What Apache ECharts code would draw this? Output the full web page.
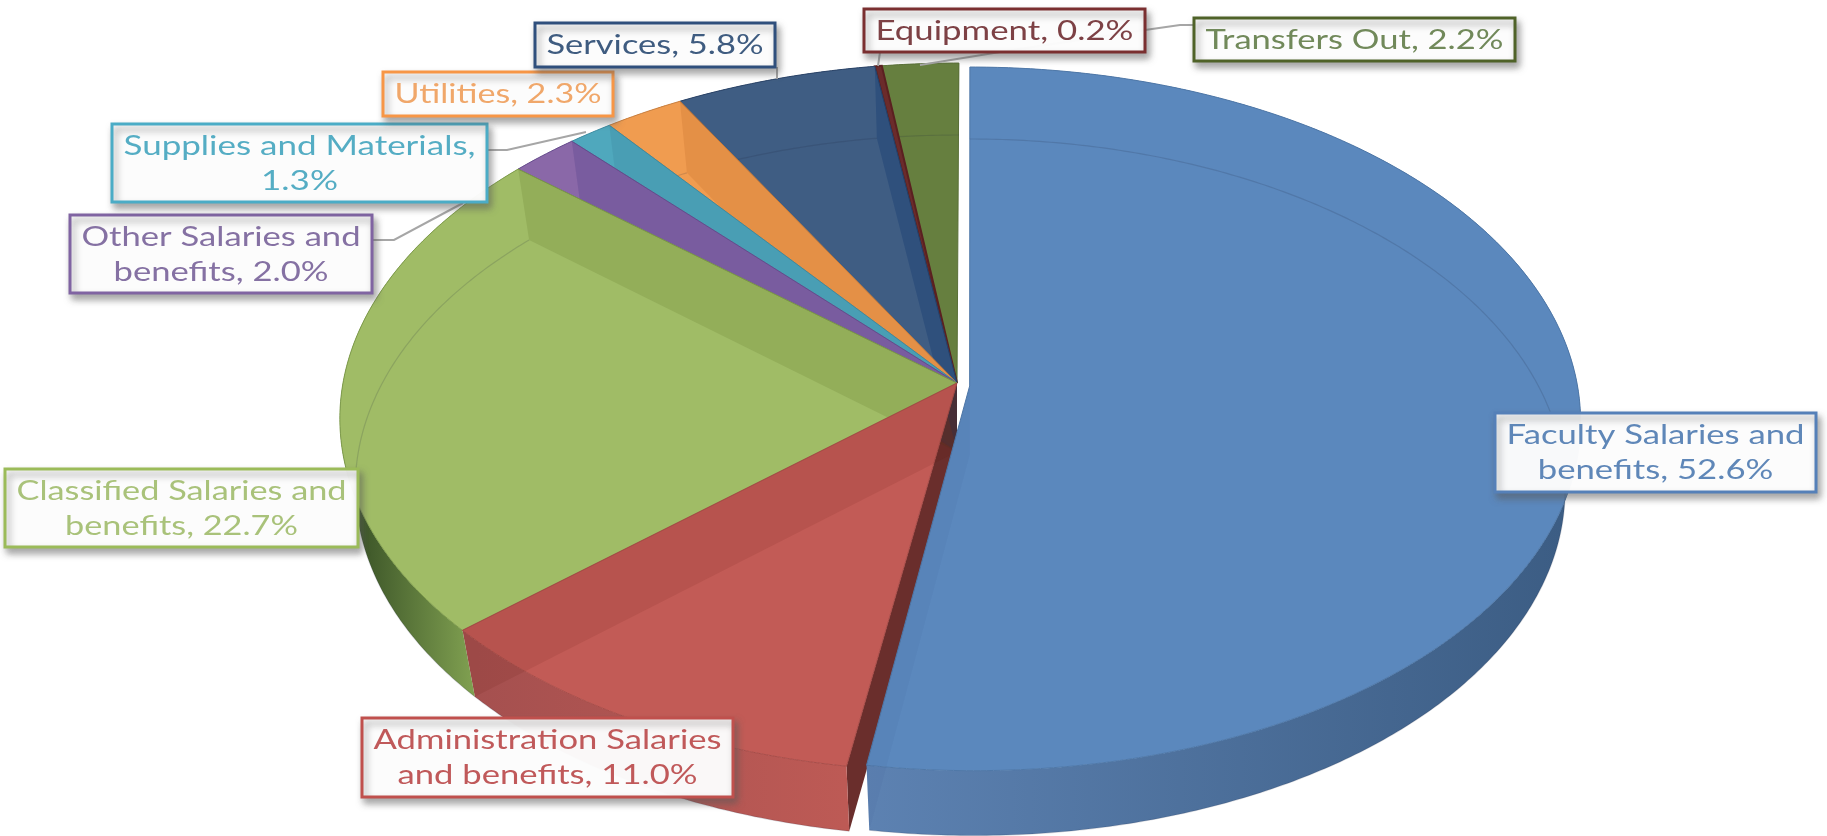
<!DOCTYPE html>
<html>
<head>
<meta charset="UTF-8">
<title>Expenditures pie</title>
<script src="https://cdn.jsdelivr.net/npm/echarts@6/dist/echarts.min.js"></script>
<style>
    html,body{margin:0;padding:0;background:#fff;}
    #pie{width:1827px;height:836px;}
</style>
</head>
<body>
<div id="pie"></div>
<script>
// data, clockwise from 12 o'clock
var categories = ['Faculty Salaries and\nbenefits', 'Administration Salaries\nand benefits', 'Classified Salaries and\nbenefits',
    'Other Salaries and\nbenefits', 'Supplies and Materials', 'Utilities', 'Services', 'Equipment', 'Transfers Out'];
var values = [52.6, 11.0, 22.7, 2.0, 1.3, 2.3, 5.8, 0.2, 2.2];
var labelSeparators = [', ', ', ', ', ', ', ', ',\n', ', ', ', ', ', ', ', '];

// colours
var faceColors = ['#5b88bd', '#c25b56', '#a0bc66', '#8a68a8', '#4fa8bd', '#f09c50', '#3f5d83', '#6b2b2b', '#667f3f'];
var edgeColors = ['#4f78a8', '#a84c48', '#7f9c4c', '#6a5090', '#3f8ea3', '#c98040', '#2b4468', '#5a2020', '#5a7038'];
var bandColors = ['rgba(30,60,110,0.05)', 'rgba(90,20,10,0.10)', 'rgba(60,70,0,0.12)', 'rgba(40,30,110,0.16)', 'rgba(30,80,110,0.10)',
    'rgba(150,60,0,0.12)', 'rgba(10,50,110,0.30)', 'rgba(0,0,0,0)', 'rgba(0,0,0,0)'];
var textColors = ['#5f87b8', '#c0595a', '#a9c27a', '#8571a3', '#55adc4', '#f0a76a', '#3f5c80', '#7d4145', '#71895a'];
var borderColors = ['#5580b8', '#c0504d', '#9bbb59', '#8064a2', '#4bacc6', '#f79646', '#2f4f7c', '#7a2f30', '#4f6228'];
var wallGradients = [[860, '#5d82b2', 1560, '#3c5d84'], [477, '#a5504f', 845, '#bd5a55'], [360, '#3c5528', 472, '#7f9f50'],
    null, null, null, null, null, null];
var startWallColors = [null, '#6a2e2c', null, null, null, null, null, null, null];

// label boxes [x, y, w, h] and leader lines
var labelBoxes = [[1495, 413, 321, 79], [362, 718, 371, 79], [5, 469, 353, 78], [70, 215, 302, 78], [112, 124, 375, 78],
    [383, 72, 230, 44], [535, 23, 240, 44], [864, 9, 281, 43], [1194, 18, 321, 43]];
var leaderLines = [null, null, null, [[372, 240], [394, 240], [463, 203]], [[487, 150], [507, 150], [586, 132]],
    null, [[777, 67], [777, 79]], [[880, 52], [878, 66]], [[920, 65], [1000, 52], [1145, 30], [1180, 25], [1194, 25]]];

// projection of the tilted disc
var apexX = 957, apexY = 383, radiusX = 614, radiusY = 351, tilt = -0.097, skew = 0.006;
// pulled out slice: x, y at the far edge, extra x, y towards the near edge, x scale
var explode = [[11, 4, 8, -5, 0.99], null, null, null, null, null, null, null, null];
var total = values.reduce(function (a, b) { return a + b; }, 0);

function angleAt(index) {
    var sum = 0;
    for (var i = 0; i < index; i++) { sum += values[i]; }
    return sum / total * Math.PI * 2;
}
function shifted(p, off) {
    if (!off) { return p; }
    var t = (p[1] - 63) / 706;
    return [apexX + (p[0] - apexX) * off[4] + off[0] + off[2] * t * t, p[1] + off[1] + off[3] * t * t];
}
function rawTop(angle, radius) {
    var u = Math.sin(angle) * radius, v = Math.cos(angle) * radius;
    var d = 1 - tilt * v;
    var y = apexY - radiusY * v / d;
    return [apexX + radiusX * u / d - skew * (y - apexY), y];
}
function topPoint(angle, radius, off) {
    return shifted(rawTop(angle, radius), off);
}
function bottomPoint(angle, radius, off) {
    var p = rawTop(angle, radius);
    var s = shifted(p, off);
    return [apexX + (p[0] - apexX) * 0.975 + (s[0] - p[0]), p[1] * 0.99 + 72.6 + (s[1] - p[1])];
}
function arc(fn, a0, a1, off) {
    var pts = [], n = Math.max(2, Math.ceil((a1 - a0) / 0.01));
    for (var i = 0; i <= n; i++) { pts.push(fn(a0 + (a1 - a0) * i / n, 1, off)); }
    return pts;
}
function wallFill(i) {
    var g = wallGradients[i];
    if (!g) { return edgeColors[i]; }
    return new echarts.graphic.LinearGradient(g[0], 0, g[2], 0, [{offset: 0, color: g[1]}, {offset: 1, color: g[3]}], true);
}

function renderStartWall(params, api) {
    var i = params.dataIndex;
    if (!startWallColors[i] || !api.value(0)) { return null; }
    var a = angleAt(i), off = explode[i];
    return {type: 'polygon', shape: {points: [topPoint(0, 0, off), topPoint(a, 1, off), bottomPoint(a, 1, off), bottomPoint(0, 0, off)]},
        style: {fill: startWallColors[i]}};
}
function renderWall(params, api) {
    var i = params.dataIndex, off = explode[i];
    var a0 = angleAt(i), a1 = a0 + api.value(0) / total * Math.PI * 2;
    var pts = arc(topPoint, a0, a1, off).concat(arc(bottomPoint, a0, a1, off).reverse());
    return {type: 'polygon', shape: {points: pts}, style: {fill: wallFill(i)}};
}
// face plus its see-through end wall; later slices are painted first so each band stays inside its own slice
function renderFace(params, api) {
    var i = params.dataIndex, off = explode[i], order = (values.length - i) * 3;
    var a0 = angleAt(i), a1 = a0 + api.value(0) / total * Math.PI * 2;
    var pts = [topPoint(0, 0, off)].concat(arc(topPoint, a0, a1, off));
    return {type: 'group', children: [
        {type: 'polygon', z2: order, shape: {points: pts},
            style: {fill: faceColors[i], stroke: edgeColors[i], lineWidth: i == 7 ? 2 : 1}},
        {type: 'polygon', z2: order + 1, shape: {points: [topPoint(a1, 1, off), bottomPoint(a1, 1, off), bottomPoint(0, 0, off), topPoint(0, 0, off)]},
            style: {fill: bandColors[i]}},
        {type: 'polyline', z2: order + 2, shape: {points: arc(bottomPoint, a0, a1, off)},
            style: {fill: null, stroke: 'rgba(30,40,60,0.16)', lineWidth: 1.2}}
    ]};
}
function renderLeader(params) {
    var line = leaderLines[params.dataIndex];
    if (!line) { return null; }
    return {type: 'polyline', shape: {points: line}, style: {fill: null, stroke: '#a6a6a6', lineWidth: 2}};
}

var measure = document.createElement('canvas').getContext('2d');
var labelFont = '26px Lato';
function renderLabel(params, api) {
    var i = params.dataIndex, box = labelBoxes[i];
    var text = categories[i] + labelSeparators[i] + api.value(0).toFixed(1) + '%';
    measure.font = labelFont;
    var widest = 0;
    text.split('\n').forEach(function (line) { widest = Math.max(widest, measure.measureText(line).width); });
    return {type: 'group', children: [
        {type: 'rect', shape: {x: box[0], y: box[1], width: box[2], height: box[3]},
            style: {fill: 'rgba(255,255,255,0.96)', stroke: borderColors[i], lineWidth: 3,
                shadowBlur: 7, shadowOffsetX: 3, shadowOffsetY: 5, shadowColor: 'rgba(90,90,90,0.55)'}},
        {type: 'text', x: box[0] + box[2] / 2, y: box[1] + box[3] / 2 + 1, scaleX: (box[2] - 23) / widest,
            style: {x: 0, y: 0, text: text, font: labelFont, fill: textColors[i], align: 'center', verticalAlign: 'middle', lineHeight: 35}}
    ]};
}

function layer(render, z) {
    return {type: 'custom', coordinateSystem: 'none', data: values, renderItem: render, z: z, silent: true, animation: false, clip: false};
}

var chart = echarts.init(document.getElementById('pie'));
chart.setOption({
    backgroundColor: '#ffffff',
    animation: false,
    tooltip: {show: false},
    series: [
        layer(renderStartWall, 1),
        layer(renderWall, 2),
        layer(renderFace, 3),
        layer(renderLeader, 5),
        layer(renderLabel, 6)
    ]
});
</script>
</body>
</html>
